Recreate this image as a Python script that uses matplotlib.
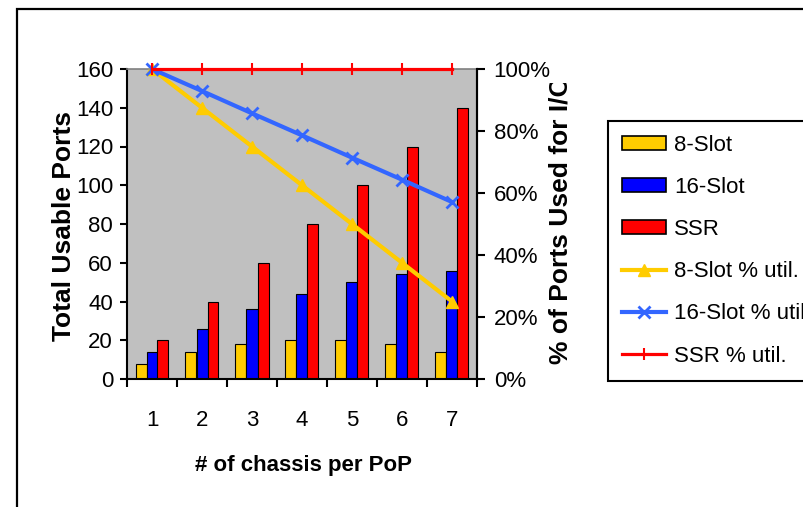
import numpy as np
import matplotlib
matplotlib.use("Agg")
import matplotlib.pyplot as plt
from matplotlib.patches import Patch, Rectangle
from matplotlib.lines import Line2D
from matplotlib.transforms import Bbox, TransformedBbox

plt.rcParams["font.family"] = ["Liberation Sans", "DejaVu Sans"]

chassis = [1, 2, 3, 4, 5, 6, 7]
ports_8slot = [8, 14, 18, 20, 20, 18, 14]
ports_16slot = [14, 26, 36, 44, 50, 54, 56]
ports_ssr = [20, 40, 60, 80, 100, 120, 140]
util_8slot = [100, 87.5, 75, 62.5, 50, 37.5, 25]
util_16slot = [100, 92.9, 85.7, 78.6, 71.4, 64.3, 57.1]
util_ssr = [100, 100, 100, 100, 100, 100, 100]

YELLOW = "#FFCC00"
BLUE = "#0000FF"
LBLUE = "#3366FF"
RED = "#FF0000"

W, H = 804, 507
fig = plt.figure(figsize=(W / 100, H / 100), dpi=100)

# outer frame around the whole chart
fig.patches.append(Rectangle((17 / W, -0.5), 2, 1.5 - 9 / H, transform=fig.transFigure,
                             fill=False, edgecolor="black", lw=1.6))

ax = fig.add_axes([127 / W, 1 - 379 / H, 350 / W, 310 / H])
ax.set_facecolor("#C0C0C0")

x = np.array(chassis)
bw = 0.22
ax.bar(x - bw, ports_8slot, bw, color=YELLOW, edgecolor="black", lw=0.8, zorder=2)
ax.bar(x, ports_16slot, bw, color=BLUE, edgecolor="black", lw=0.8, zorder=2)
ax.bar(x + bw, ports_ssr, bw, color=RED, edgecolor="black", lw=0.8, zorder=2)

ax.set_xlim(0.5, 7.5)
ax.set_ylim(0, 160)
ax.set_yticks(range(0, 161, 20))
ax.set_xticks(np.arange(0.5, 8, 1))
ax.set_xticklabels([])
ax.set_xticks(x, minor=True)
ax.set_xticklabels([str(c) for c in chassis], minor=True)
ax.tick_params(axis="x", which="major", direction="out", length=6, width=1.5)
ax.tick_params(axis="x", which="minor", length=0, pad=22, labelsize=16)
ax.tick_params(axis="y", direction="out", length=5, width=1.5, pad=5, labelsize=16)
for s in ["left", "bottom", "right"]:
    ax.spines[s].set_linewidth(1.5)
ax.spines["top"].set_color("#808080")
ax.spines["top"].set_linewidth(1.2)

ax2 = ax.twinx()
ax2.set_ylim(0, 100)
ax2.set_yticks(range(0, 101, 20))
ax2.set_yticklabels([f"{v}%" for v in range(0, 101, 20)])
ax2.tick_params(axis="y", direction="out", length=6, width=1.5, pad=6, labelsize=16)
ax2.spines["right"].set_linewidth(1.5)
for s in ["left", "bottom", "top"]:
    ax2.spines[s].set_visible(False)

ax2.plot(x, util_8slot, color=YELLOW, lw=3, marker="^", ms=9, clip_on=False, zorder=3)
ax2.plot(x, util_16slot, color=LBLUE, lw=3, marker="x", ms=9, mew=2, clip_on=False, zorder=4)
ax2.plot(x, util_ssr, color=RED, lw=2.3, marker="|", ms=8, mew=1.5, clip_on=False, zorder=5)

fig.text(64 / W, 1 - 226 / H, "Total Usable Ports", rotation=90, ha="center", va="center",
         fontsize=19, fontweight="bold")
rlab = fig.text(561 / W, 1 - 220 / H, "% of Ports Used for I/O", rotation=90, ha="center",
                va="center", fontsize=19, fontweight="bold")
# the right-hand title runs out of room at the top
rlab.set_clip_box(TransformedBbox(Bbox.from_extents(0, 0, 1, 1 - 83 / H), fig.transFigure))
rlab.set_clip_on(True)
fig.text(304 / W, 1 - 465 / H, "# of chassis per PoP", ha="center", va="center",
         fontsize=16, fontweight="bold")

handles = [
    Patch(facecolor=YELLOW, edgecolor="black", lw=1.2),
    Patch(facecolor=BLUE, edgecolor="black", lw=1.2),
    Patch(facecolor=RED, edgecolor="black", lw=1.2),
    Line2D([], [], color=YELLOW, lw=3, marker="^", ms=9),
    Line2D([], [], color=LBLUE, lw=3, marker="x", ms=9, mew=2),
    Line2D([], [], color=RED, lw=2.3, marker="|", ms=8, mew=1.5),
]
labels = ["8-Slot", "16-Slot", "SSR", "8-Slot % util.", "16-Slot % util.", "SSR % util."]
leg = fig.legend(handles, labels, loc="upper left", bbox_to_anchor=(608 / W, 1 - 121 / H),
                 bbox_transform=fig.transFigure, fontsize=16, frameon=True, fancybox=False,
                 edgecolor="black", framealpha=1, borderaxespad=0, borderpad=0.63,
                 handlelength=2.0, handleheight=0.6, handletextpad=0.35, labelspacing=0.95)
leg.get_frame().set_linewidth(1.5)

fig.savefig("out.png", dpi=100)
